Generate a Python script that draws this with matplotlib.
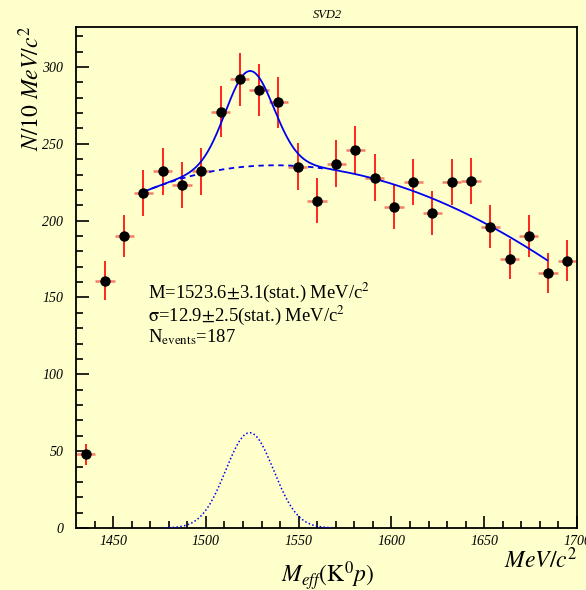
import numpy as np
import matplotlib
matplotlib.use("Agg")
import matplotlib.pyplot as plt

plt.rcParams['font.family'] = ['Liberation Serif', 'DejaVu Serif']
plt.rcParams['mathtext.fontset'] = 'stix'

# histogram: 26 bins between 1430 and 1700 MeV/c^2
edges = np.linspace(1430, 1700, 27)
counts = [48, 161, 190, 218, 232, 223, 232, 271, 292, 285, 277, 235, 213,
          237, 246, 228, 209, 225, 205, 225, 226, 196, 175, 190, 166, 174]

# fit results
mass, sigma, amp = 1523.6, 12.9, 62.0
fit_lo, fit_hi = 1466, 1684
# background curve
bg_x = [1466, 1498, 1549, 1570, 1591, 1612, 1633, 1653, 1684]
bg_y = [218, 232, 235, 232, 227.5, 219, 209.5, 196.5, 174]

centers = 0.5 * (edges[1:] + edges[:-1])
halfw = 0.5 * (edges[1] - edges[0])
counts = np.array(counts, dtype=float)
yerr = np.sqrt(counts)

bg_poly = np.poly1d(np.polyfit(np.array(bg_x) - 1550, bg_y, 3))

def bg(x):
    return bg_poly(x - 1550)

def gauss(x):
    return amp * np.exp(-0.5 * ((x - mass) / sigma) ** 2)

bgc = '#ffffcc'
fig = plt.figure(figsize=(5.86, 5.90), dpi=100, facecolor=bgc)
ax = fig.add_axes([76/586, 62/590, 501/586, 501/590])
ax.set_facecolor(bgc)

# error bars
ax.errorbar(centers, counts, xerr=halfw, fmt='none', ecolor='#f47f6a',
            elinewidth=1.8, capsize=0, zorder=2)
ax.errorbar(centers, counts, yerr=yerr, fmt='none', ecolor='#ff0000',
            elinewidth=1.2, capsize=0, zorder=2)
ax.plot(centers, counts, 'o', color='black', ms=6.5, zorder=4)

# fit curves
xf = np.linspace(fit_lo, fit_hi, 400)
ax.plot(xf, bg(xf) + gauss(xf), color='#0000ee', lw=1.3, zorder=3)
xb = np.linspace(fit_lo, 1563, 200)
ax.plot(xb, bg(xb), color='#0000ee', lw=1.3, ls=(0, (3, 2.5)), zorder=3)
xg = np.linspace(1478, 1568, 200)
ax.plot(xg, gauss(xg), color='#0000ee', lw=1.1, ls=(0, (1, 1.5)), zorder=3)

ax.set_xlim(1430, 1700)
ax.set_ylim(0, 326)
ax.set_xticks(np.arange(1450, 1701, 50))
ax.set_xticks(np.arange(1440, 1700, 10), minor=True)
ax.set_yticks(np.arange(0, 301, 50))
ax.set_yticks(np.arange(0, 326, 10), minor=True)
ax.tick_params(which='both', direction='in', width=1.2, top=False, right=False,
               labelsize=10)
ax.tick_params(which='major', length=9)
ax.tick_params(which='minor', length=5)
ax.tick_params(axis='x', which='major', pad=5)
ax.tick_params(axis='y', which='major', pad=9)
for lbl in ax.get_xticklabels() + ax.get_yticklabels():
    lbl.set_style('italic')
for sp in ax.spines.values():
    sp.set_linewidth(1.3)

fig.text(327/586, 1 - 15/590, 'SVD2', ha='center', va='center',
         style='italic', fontsize=9)
fig.text(31/586, 1 - 88/590, r'$N/10\ MeV/c^2$', rotation=90,
         ha='center', va='center', fontsize=17)
fig.text(328/586, 1 - 576/590, r'$M_{eff}(\mathrm{K}^0p)$', ha='center',
         va='center', fontsize=17)
fig.text(541/586, 1 - 560/590, r'$MeV/c^2$', ha='center', va='center',
         fontsize=17)

ax.text(0.143, 0.47, r'M=1523.6$\pm$3.1(stat.) MeV/c$^2$',
        transform=ax.transAxes, fontsize=13.4, va='center')
ax.text(0.143, 0.425, r'$\mathrm{\sigma}$=12.9$\pm$2.5(stat.) MeV/c$^2$',
        transform=ax.transAxes, fontsize=13.4, va='center')
ax.text(0.143, 0.38, r'N$_{\mathrm{events}}$=187',
        transform=ax.transAxes, fontsize=13.4, va='center')

fig.savefig('out.png', dpi=100, facecolor=bgc)
